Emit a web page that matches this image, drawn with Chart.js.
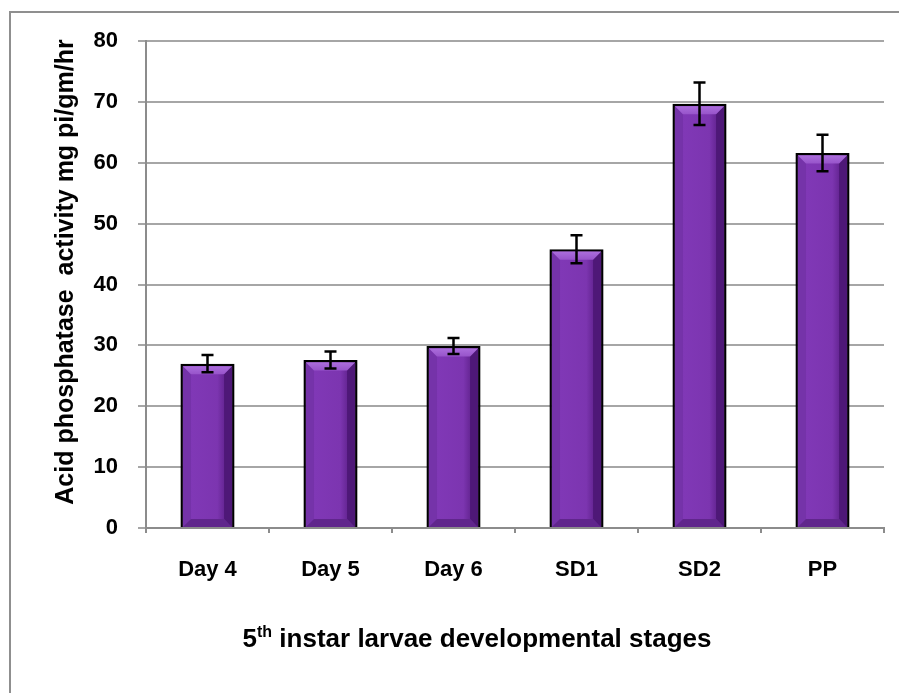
<!DOCTYPE html>
<html>
<head>
<meta charset="utf-8">
<script src="https://cdn.jsdelivr.net/npm/chart.js@4"></script>
<style>
html,body{margin:0;padding:0;background:#fff;}
canvas{display:block;}
</style>
</head>
<body>
<canvas id="c" width="899" height="693"></canvas>
<script>
const categories = ['Day 4', 'Day 5', 'Day 6', 'SD1', 'SD2', 'PP'];
const activity = [27.0, 27.6, 29.9, 45.8, 69.7, 61.6];
const errors = [1.4, 1.4, 1.3, 2.3, 3.5, 3.0];
const yMin = 0, yMax = 80, yStep = 10;
const yTitle = 'Acid phosphatase  activity mg pi/gm/hr';
const xTitleNum = '5', xTitleSup = 'th', xTitleRest = ' instar larvae developmental stages';

const FONT = "'Liberation Sans', Arial, sans-serif";

const framePlugin = {
  id: 'frame',
  beforeDraw(chart) {
    const ctx = chart.ctx;
    ctx.save();
    ctx.fillStyle = '#fff';
    ctx.fillRect(0, 0, chart.width, chart.height);
    ctx.strokeStyle = '#8f8f8f';
    ctx.lineWidth = 2;
    ctx.beginPath();
    ctx.moveTo(10, chart.height + 5);
    ctx.lineTo(10, 12);
    ctx.lineTo(chart.width + 5, 12);
    ctx.stroke();
    ctx.restore();
  }
};

const bevelPlugin = {
  id: 'bevel',
  afterDatasetsDraw(chart) {
    const ctx = chart.ctx;
    const meta = chart.getDatasetMeta(0);
    const yScale = chart.scales.y;
    ctx.save();
    meta.data.forEach((el, i) => {
      const p = el.getProps(['x', 'y', 'base', 'width'], true);
      const bw = 2.5;
      const L = p.x - p.width / 2 + bw, R = p.x + p.width / 2 - bw;
      const T = p.y + bw, B = p.base;
      const b = 8;
      const g = ctx.createLinearGradient(L, 0, R, 0);
      g.addColorStop(0, '#6e2ca0');
      g.addColorStop(0.18, '#8038b6');
      g.addColorStop(0.7, '#7c35b0');
      g.addColorStop(0.88, '#60228d');
      g.addColorStop(1, '#3e1062');
      ctx.fillStyle = g;
      ctx.fillRect(L, T, R - L, B - T);
      const poly = (pts, col) => {
        ctx.beginPath();
        ctx.moveTo(pts[0][0], pts[0][1]);
        for (let k = 1; k < pts.length; k++) ctx.lineTo(pts[k][0], pts[k][1]);
        ctx.closePath();
        ctx.fillStyle = col;
        ctx.fill();
      };
      poly([[L, T], [L + b, T + b], [L + b, B - b], [L, B]], '#7533a9');
      poly([[R, T], [R - b, T + b], [R - b, B - b], [R, B]], '#4e1877');
      poly([[L, B], [L + b, B - b], [R - b, B - b], [R, B]], '#60268c');
      const gt = ctx.createLinearGradient(0, T, 0, T + b);
      gt.addColorStop(0, '#ab6ddc');
      gt.addColorStop(1, '#9754ca');
      poly([[L, T], [R, T], [R - b, T + b], [L + b, T + b]], gt);

      // error bars
      const yt = yScale.getPixelForValue(activity[i] + errors[i]);
      const yb = yScale.getPixelForValue(activity[i] - errors[i]);
      ctx.strokeStyle = '#000';
      ctx.lineWidth = 2.5;
      ctx.beginPath();
      ctx.moveTo(p.x, yt); ctx.lineTo(p.x, yb);
      ctx.moveTo(p.x - 6, yt); ctx.lineTo(p.x + 6, yt);
      ctx.moveTo(p.x - 6, yb); ctx.lineTo(p.x + 6, yb);
      ctx.stroke();
    });
    ctx.restore();
  }
};

const titlesPlugin = {
  id: 'titles',
  afterDraw(chart) {
    const ctx = chart.ctx;
    ctx.save();
    ctx.fillStyle = '#000';
    // y title
    ctx.font = 'bold 25px ' + FONT;
    ctx.textAlign = 'center';
    ctx.textBaseline = 'middle';
    ctx.translate(66, 272);
    ctx.rotate(-Math.PI / 2);
    ctx.fillText(yTitle, 0, 0);
    ctx.restore();

    ctx.save();
    ctx.fillStyle = '#000';
    ctx.textBaseline = 'alphabetic';
    ctx.textAlign = 'left';
    const big = 'bold 26px ' + FONT, small = 'bold 16px ' + FONT;
    ctx.font = big;
    const w1 = ctx.measureText(xTitleNum).width;
    const w3 = ctx.measureText(xTitleRest).width;
    ctx.font = small;
    const w2 = ctx.measureText(xTitleSup).width;
    const total = w1 + w2 + w3;
    let x = 477 - total / 2;
    const base = 647;
    ctx.font = big;
    ctx.fillText(xTitleNum, x, base); x += w1;
    ctx.font = small;
    ctx.fillText(xTitleSup, x, base - 10); x += w2;
    ctx.font = big;
    ctx.fillText(xTitleRest, x, base);
    ctx.restore();
  }
};

new Chart(document.getElementById('c'), {
  type: 'bar',
  data: {
    labels: categories,
    datasets: [{
      data: activity,
      backgroundColor: '#7a35ac',
      borderColor: '#000',
      borderWidth: 2.5,
      barPercentage: 0.44,
      categoryPercentage: 1.0
    }]
  },
  options: {
    responsive: false,
    animation: false,
    devicePixelRatio: 1,
    layout: { padding: { left: 10, top: 41, right: 15, bottom: 0 } },
    plugins: { legend: { display: false }, tooltip: { enabled: false }, title: { display: false } },
    scales: {
      x: {
        grid: { offset: true, drawOnChartArea: false, drawTicks: true, tickLength: 5, color: '#8c8c8c', lineWidth: 2 },
        border: { display: true, color: '#8c8c8c', width: 2 },
        ticks: { color: '#000', font: { family: FONT, size: 22, weight: 'bold' }, padding: 24, maxRotation: 0 },
        afterFit: s => { s.height = 165; }
      },
      y: {
        min: yMin, max: yMax,
        grid: { color: '#a6a6a6', lineWidth: 2, tickLength: 8, drawTicks: true },
        border: { display: true, color: '#8c8c8c', width: 2 },
        ticks: { stepSize: yStep, color: '#000', font: { family: FONT, size: 22, weight: 'bold' }, padding: 20 },
        afterFit: s => { s.width = 136; }
      }
    }
  },
  plugins: [framePlugin, bevelPlugin, titlesPlugin]
});
</script>
</body>
</html>
